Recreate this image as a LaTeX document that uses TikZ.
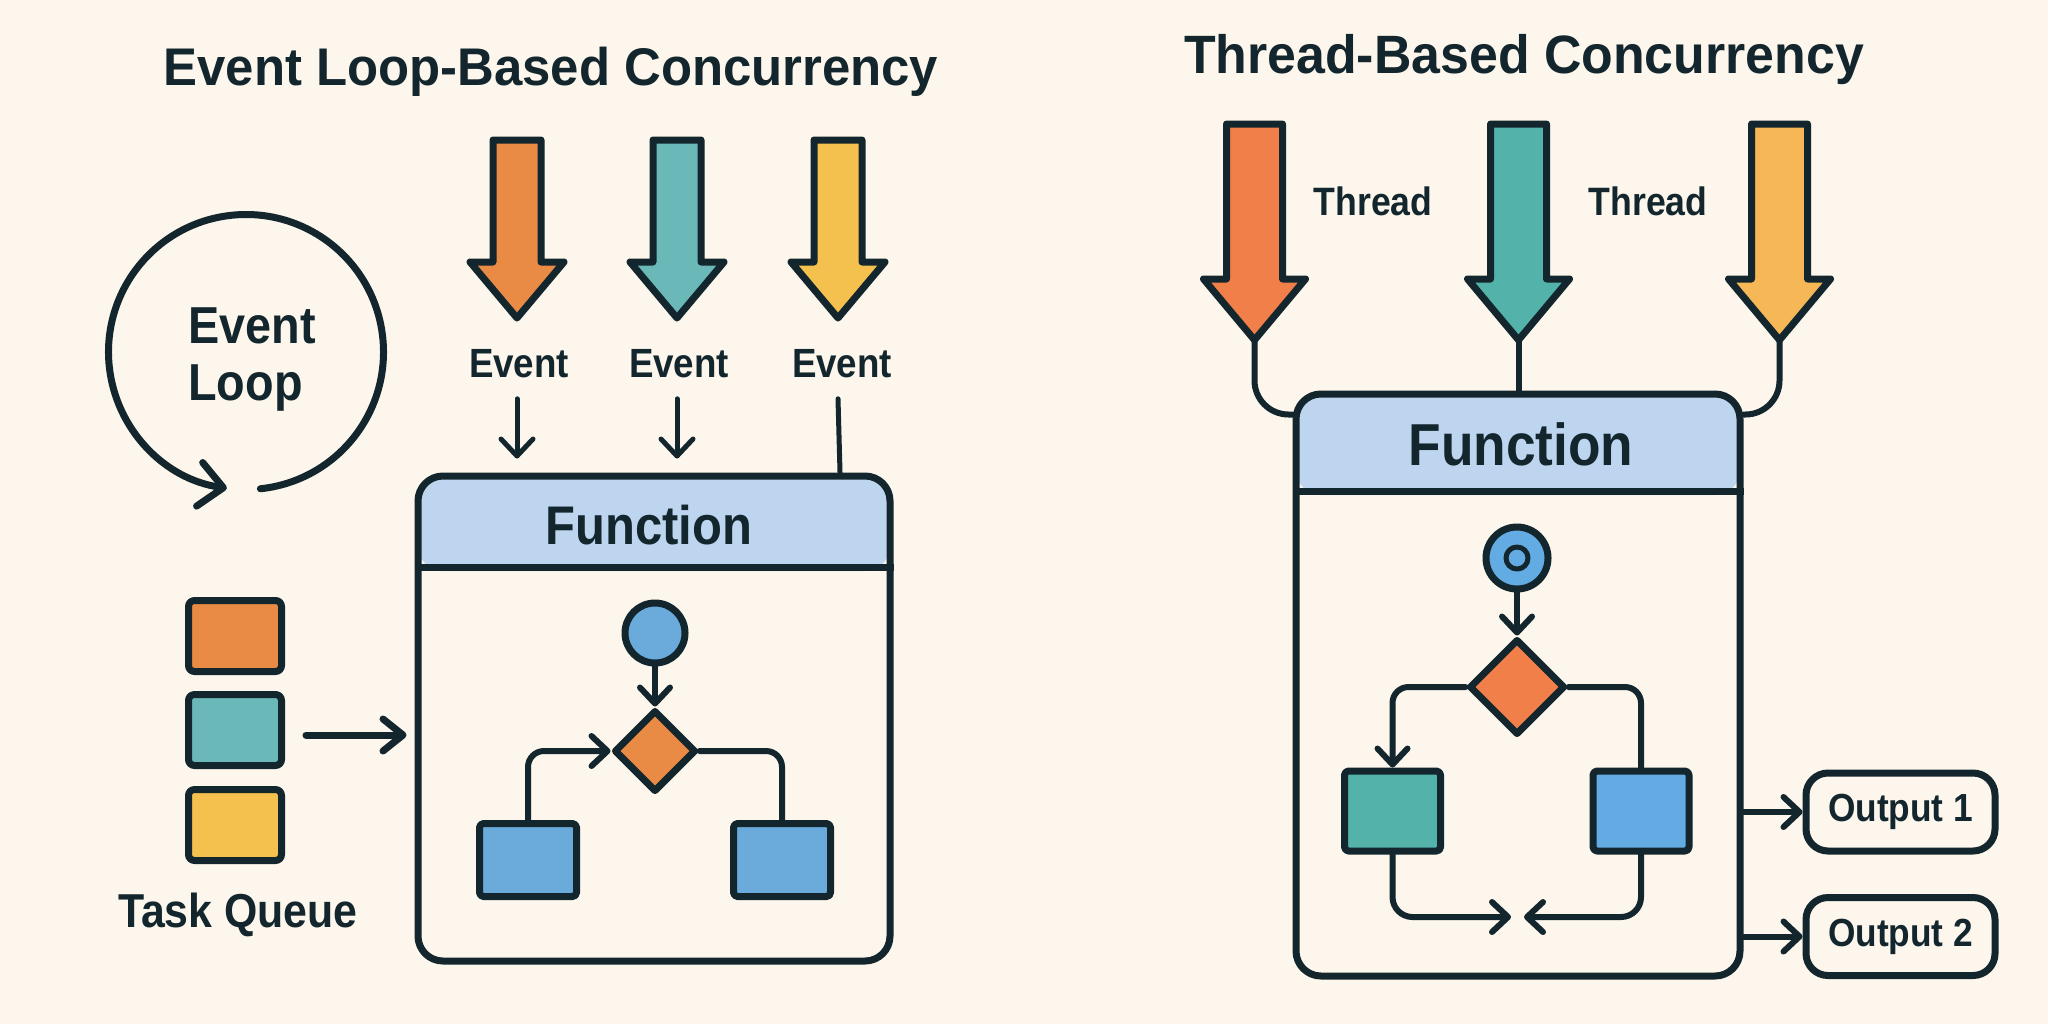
\documentclass[tikz,border=0pt]{standalone}
\usepackage{fontspec}
\setmainfont{Liberation Sans}[FakeStretch=0.9]
\newfontfamily\titlefont{Liberation Sans}[FakeStretch=0.96]
\usetikzlibrary{arrows.meta,shapes.geometric,calc}

\definecolor{bg}{HTML}{FCF6EC}
\definecolor{inkc}{HTML}{14262D}
\definecolor{hdr}{HTML}{BED5EF}
\definecolor{lorange}{HTML}{E98A45}
\definecolor{lteal}{HTML}{6BB8B9}
\definecolor{lyellow}{HTML}{F5C14E}
\definecolor{rorange}{HTML}{F07F49}
\definecolor{rteal}{HTML}{53B2A9}
\definecolor{ryellow}{HTML}{F6B757}
\definecolor{lblue}{HTML}{6AABDB}
\definecolor{rblue}{HTML}{62ABE3}

\newcommand\fTitleL{\titlefont\bfseries\fontsize{26.5pt}{32pt}\selectfont}
\newcommand\fTitleR{\titlefont\bfseries\fontsize{27pt}{32pt}\selectfont}
\newcommand\fEvent{\bfseries\fontsize{20.4pt}{24pt}\selectfont}
\newcommand\fLoop{\bfseries\fontsize{26pt}{30pt}\selectfont}
\newcommand\fTask{\bfseries\fontsize{23.8pt}{28pt}\selectfont}
\newcommand\fFuncL{\bfseries\fontsize{27.2pt}{32pt}\selectfont}
\newcommand\fFuncR{\bfseries\fontsize{29.6pt}{34pt}\selectfont}
\newcommand\fThread{\bfseries\fontsize{19.8pt}{24pt}\selectfont}
\newcommand\fOut{\bfseries\fontsize{19.6pt}{24pt}\selectfont}

% name, cx, top, headbase, tip, shafthalf, headhalf, colour
\newcommand\bArrow[8]{%
  \draw[draw=inkc, fill=#8, line width=3.5pt, line join=round]
    (#2-#6,#3) -- (#2+#6,#3) -- (#2+#6,#4) -- (#2+#7,#4) -- (#2,#5)
    -- (#2-#7,#4) -- (#2-#6,#4) -- cycle;
  \coordinate (#1) at (#2,#5);}

\begin{document}
\begin{tikzpicture}[x=0.5pt, y=-0.5pt, line join=round, line cap=round,
  box/.style={draw=inkc, line width=3.5pt, inner sep=0pt, text=inkc},
  conn/.style={draw=inkc, line width=3pt},
  barb/.style={-{Straight Barb[length=8pt,width=15pt,round]}},
  barbS/.style={-{Straight Barb[length=8.5pt,width=16pt,round]}},
  barbM/.style={-{Straight Barb[length=10pt,width=16pt,round]}},
  barbL/.style={-{Straight Barb[length=12pt,width=22pt,round]}},
  lbl/.style={text=inkc, inner sep=0pt},
]
\useasboundingbox[fill=bg] (0,0) rectangle (2048,1024);

% ---------------- LEFT PANEL ----------------
\node[lbl, font=\fTitleL, anchor=base] (ttl1) at (551,85) {Event Loop-Based Concurrency};

% event loop
\coordinate (loopc) at (246,352);
\draw[draw=inkc, line width=3.5pt, barbL] ($(loopc)+(84:137.5)$) arc[start angle=84, end angle=-262, radius=137.5];
\node[lbl, font=\fLoop, anchor=base west] (lp1) at (188,343) {Event};
\node[lbl, font=\fLoop, anchor=base west] (lp2) at (188,400) {Loop};

% event arrows
\bArrow{a1}{517}{140}{262}{318}{24}{47}{lorange}
\bArrow{a2}{677}{140}{262}{318}{24}{47}{lteal}
\bArrow{a3}{838}{140}{262}{318}{24}{47}{lyellow}
\node[lbl, font=\fEvent, anchor=base] (ev1) at (519,377) {Event};
\node[lbl, font=\fEvent, anchor=base] (ev2) at (679,377) {Event};
\node[lbl, font=\fEvent, anchor=base] (ev3) at (842,377) {Event};

% function box (left)
\node[box, rounded corners=12.5pt, minimum width=236pt, minimum height=242.5pt,
  path picture={\fill[hdr] (path picture bounding box.north west) rectangle ([yshift=-47.5pt]path picture bounding box.north east);}]
  (lfun) at (654,718.5) {};
\draw[draw=inkc, line width=3.5pt, line cap=butt] ($(lfun.north west)+(0,95)$) -- ($(lfun.north east)+(0,95)$);
\node[lbl, font=\fFuncL, anchor=base] (lft) at (649,544) {Function};

\draw[draw=inkc, line width=2.5pt, barbS] ($(a1 |- ev1.south)+(0,21)$) -- ($(a1 |- lfun.north)+(0,-14)$);
\draw[draw=inkc, line width=2.5pt, barbS] ($(a2 |- ev2.south)+(0,21)$) -- ($(a2 |- lfun.north)+(0,-14)$);
\draw[draw=inkc, line width=2.5pt] ($(a3 |- ev3.south)+(0,21)$) -- ($(a3 |- lfun.north)+(2,0)$);

% task queue
\node[box, rounded corners=3pt, fill=lorange, minimum width=46.5pt, minimum height=35.5pt] (tq1) at (235,636) {};
\node[box, rounded corners=3pt, fill=lteal, minimum width=46.5pt, minimum height=35.5pt] (tq2) at (235,730) {};
\node[box, rounded corners=3pt, fill=lyellow, minimum width=46.5pt, minimum height=35.5pt] (tq3) at (235,825) {};
\node[lbl, font=\fTask, anchor=base] (tql) at (238,927) {Task Queue};
\draw[draw=inkc, line width=3.5pt, barbM] ($(tq2.east)+(21,5)$) -- ($(lfun.west |- tq2.east)+(-8,5)$);

% inner flow (left)
\node[box, circle, fill=lblue, minimum size=30pt] (lc) at (655,633) {};
\node[box, diamond, aspect=1, fill=lorange, minimum size=41pt] (ld) at (655,751) {};
\node[box, rounded corners=2pt, fill=lblue, minimum width=48.5pt, minimum height=36.5pt] (lb) at (528,860) {};
\node[box, rounded corners=2pt, fill=lblue, minimum width=48.5pt, minimum height=36.5pt] (rb) at (782,860) {};
\draw[conn, barb] (lc.south) -- (ld.north);
\draw[conn, barb, rounded corners=8pt] (lb.north) |- (ld.west);
\draw[conn, rounded corners=8pt] (ld.east) -| (rb.north);

% ---------------- RIGHT PANEL ----------------
\node[lbl, font=\fTitleR, anchor=base] (ttl2) at (1524,73) {Thread-Based Concurrency};

\node[box, rounded corners=12.5pt, minimum width=222pt, minimum height=291pt,
  path picture={\fill[hdr] (path picture bounding box.north west) rectangle ([yshift=-50.5pt]path picture bounding box.north east);}]
  (rfun) at (1518,685) {};
\draw[draw=inkc, line width=3.5pt, line cap=butt] ($(rfun.north west)+(0,101)$) -- ($(rfun.north east)+(0,101)$);
\node[lbl, font=\fFuncR, anchor=base] (rft) at (1521,465) {Function};

\bArrow{t1}{1254.5}{124}{279}{340}{28}{51}{rorange}
\bArrow{t2}{1518.5}{124}{279}{340}{28}{51}{rteal}
\bArrow{t3}{1779.5}{124}{279}{340}{28}{51}{ryellow}
\node[lbl, font=\fThread, anchor=base] (th1) at (1373,215) {Thread};
\node[lbl, font=\fThread, anchor=base] (th2) at (1648,215) {Thread};

\draw[conn, rounded corners=17pt] (t1) |- ($(rfun.north west)+(0,24)$);
\draw[conn] (t2) -- (t2 |- rfun.north);
\draw[conn, rounded corners=17pt] (t3) |- ($(rfun.north east)+(0,24)$);

% inner flow (right)
\node[box, circle, fill=rblue, minimum size=31pt] (rc) at (1517,558) {};
\draw[draw=inkc, line width=2.5pt, fill=rblue] (rc) circle[radius=5.5pt];
\node[box, diamond, aspect=1, fill=rorange, minimum size=48pt] (rd) at (1517,687) {};
\node[box, rounded corners=2pt, fill=rteal, minimum width=48pt, minimum height=40pt] (rtb) at (1392.5,811) {};
\node[box, rounded corners=2pt, fill=rblue, minimum width=48pt, minimum height=40pt] (rbb) at (1641,811) {};
\draw[conn, barb] (rc.south) -- (rd.north);
\draw[conn, barb, rounded corners=8pt] (rd.west) -| (rtb.north);
\draw[conn, rounded corners=8pt] (rd.east) -| (rbb.north);
\coordinate (mL) at (1511,917);
\coordinate (mR) at (1524,917);
\draw[conn, barb, rounded corners=10pt] (rtb.south) |- (mL);
\draw[conn, barb, rounded corners=10pt] (rbb.south) |- (mR);

% outputs
\node[box, rounded corners=11pt, minimum width=94.5pt, minimum height=39pt, font=\fOut] (out1) at (1900.5,812) {Output 1};
\node[box, rounded corners=11pt, minimum width=94.5pt, minimum height=39pt, font=\fOut] (out2) at (1900.5,936.5) {Output 2};
\draw[conn, barb] (rfun.east |- out1.west) -- (out1.west);
\draw[conn, barb] (rfun.east |- out2.west) -- (out2.west);
\end{tikzpicture}
\end{document}
